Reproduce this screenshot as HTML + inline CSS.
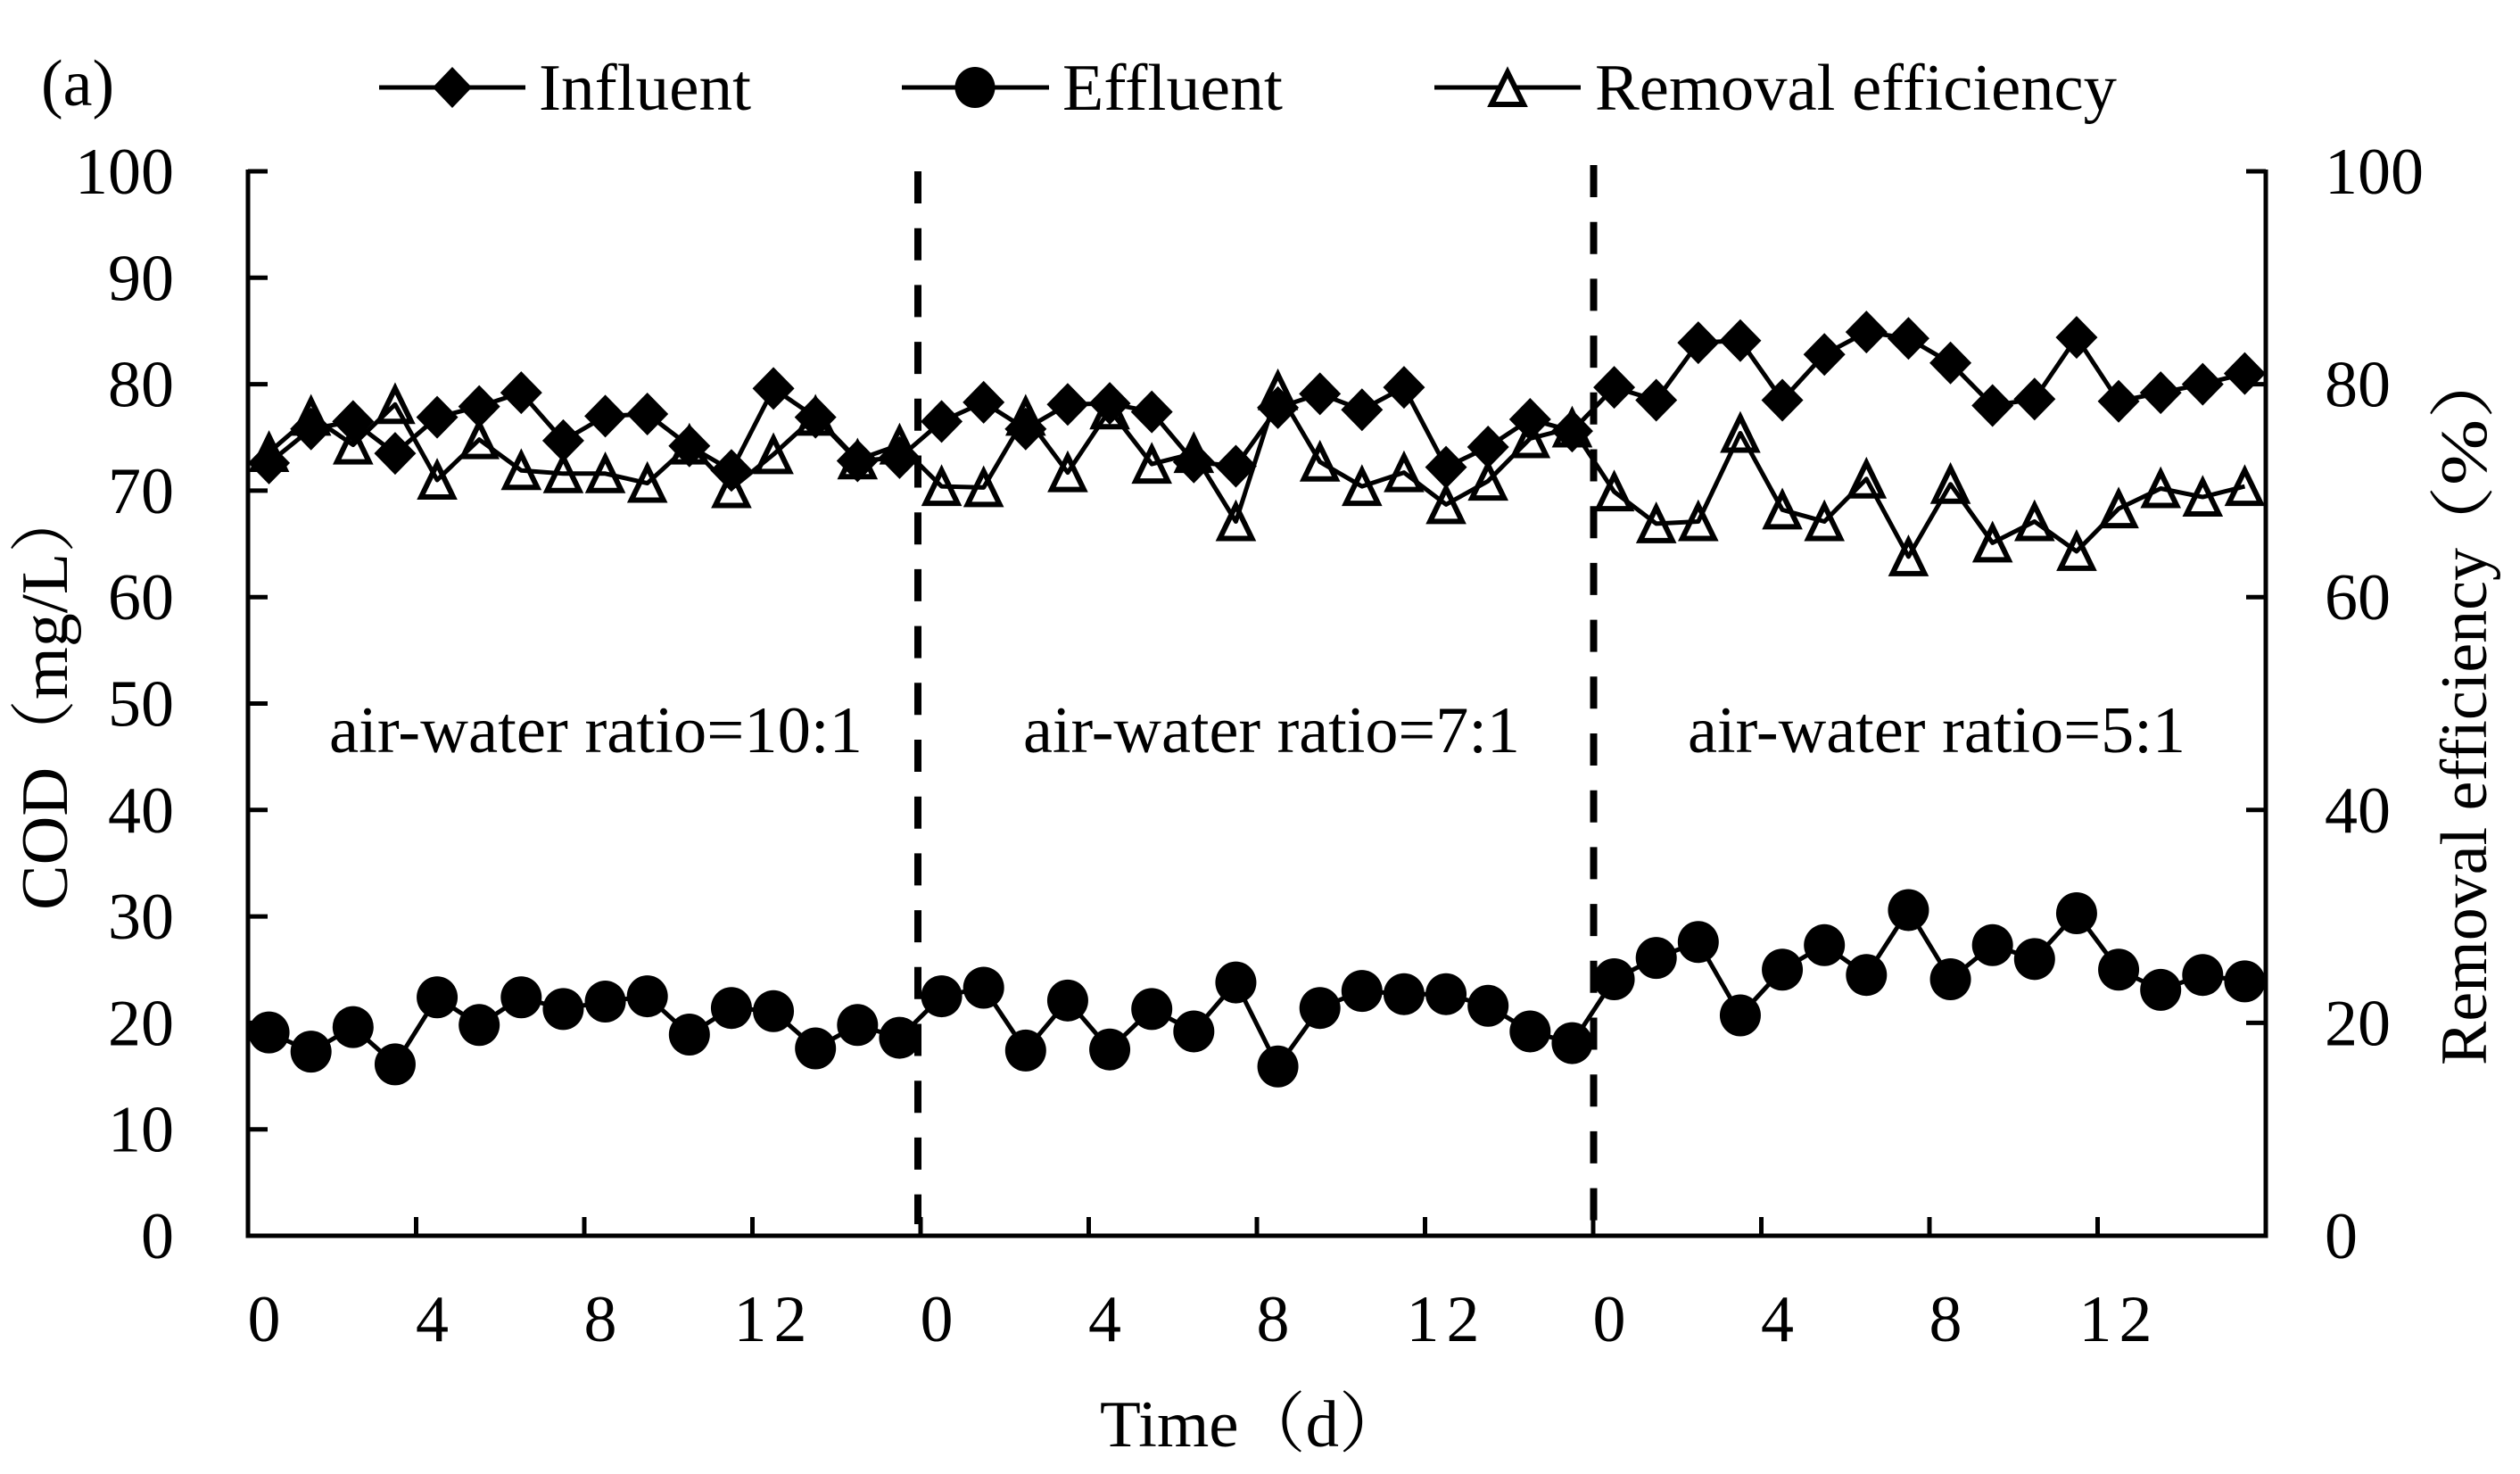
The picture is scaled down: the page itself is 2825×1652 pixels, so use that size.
<!DOCTYPE html>
<html lang="en">
<head>
<meta charset="utf-8">
<title>COD influent, effluent and removal efficiency</title>
<style>
  html, body { margin: 0; padding: 0; background: #fff; }
  svg { display: block; }
  text { font-family: "Liberation Serif", "Noto Serif CJK SC", serif; font-size: 74px; fill: #000; }
</style>
</head>
<body>
<svg id="chart" xmlns="http://www.w3.org/2000/svg" width="2825" height="1652" viewBox="0 0 2825 1652">
  <rect x="0" y="0" width="2825" height="1652" fill="#fff"/>
  <text x="46" y="118">(a)</text>

  <g>
    <g>
      <line x1="425" y1="98" x2="589" y2="98" stroke="#000" stroke-width="5"/>
      <polygon points="507,75 529,98 507,121 485,98" fill="#000"/>
      <text x="604" y="123" textLength="238" lengthAdjust="spacingAndGlyphs">Influent</text>
    </g>
    <g>
      <line x1="1011" y1="98" x2="1176" y2="98" stroke="#000" stroke-width="5"/>
      <ellipse cx="1093" cy="98" rx="22.5" ry="23" fill="#000"/>
      <text x="1191" y="123" textLength="247" lengthAdjust="spacingAndGlyphs">Effluent</text>
    </g>
    <g>
      <line x1="1608" y1="98" x2="1772" y2="98" stroke="#000" stroke-width="5"/>
      <polygon points="1690,81 1708,117 1672,117" fill="#fff" stroke="#000" stroke-width="6"/>
      <text x="1788" y="123" textLength="585" lengthAdjust="spacingAndGlyphs">Removal efficiency</text>
    </g>
  </g>

  <g id="plot"></g>

  <g>
    <line x1="1029" y1="192" x2="1029" y2="1372" stroke="#000" stroke-width="8" stroke-dasharray="36 27.7"/>
    <line x1="1786.5" y1="185" x2="1786.5" y2="1369" stroke="#000" stroke-width="8" stroke-dasharray="36 27.7"/>
  </g>

  <text x="369" y="843" textLength="598" lengthAdjust="spacingAndGlyphs">air-water ratio=10:1</text>
  <text x="1147" y="843" textLength="557" lengthAdjust="spacingAndGlyphs">air-water ratio=7:1</text>
  <text x="1892" y="843" textLength="558" lengthAdjust="spacingAndGlyphs">air-water ratio=5:1</text>

  <text x="1233" y="1621" textLength="343" lengthAdjust="spacingAndGlyphs">Time（d）</text>
  <text transform="translate(75 1020) rotate(-90)" textLength="476" lengthAdjust="spacingAndGlyphs">COD（mg/L）</text>
  <g>
    <text transform="translate(2787 1194) rotate(-90)" textLength="580" lengthAdjust="spacingAndGlyphs">Removal efficiency</text>
    <text transform="translate(2787 633) rotate(-90)" textLength="252" lengthAdjust="spacingAndGlyphs">（%）</text>
  </g>
</svg>

<script>
const categories = [0,1,2,3,4,5,6,7,8,9,10,11,12,13,14,15,0,1,2,3,4,5,6,7,8,9,10,11,12,13,14,15,0,1,2,3,4,5,6,7,8,9,10,11,12,13,14,15];
const influent = [72.6,75.8,76.5,73.5,76.9,77.9,79.2,74.7,77.0,77.2,74.2,71.9,79.6,76.9,72.8,73.1,76.5,78.3,75.8,78.1,78.2,77.4,72.7,72.3,77.8,79.1,77.6,79.7,72.2,74.1,76.7,75.6,79.7,78.5,83.9,84.1,78.5,82.8,84.9,84.3,82.0,78.0,78.6,84.4,78.4,79.2,80.0,81.0];
const effluent = [19.1,17.3,19.6,16.1,22.4,19.8,22.4,21.3,22.0,22.5,18.9,21.4,21.1,17.6,19.8,18.6,22.5,23.3,17.4,22.1,17.5,21.3,19.2,23.8,15.9,21.4,23.0,22.7,22.7,21.6,19.2,18.1,24.1,26.1,27.6,20.7,25.0,27.3,24.5,30.6,24.1,27.3,26.0,30.3,25.0,23.1,24.5,23.9];
const removalEfficiency = [73.6,77.0,74.3,78.1,71.0,74.8,71.9,71.6,71.6,70.7,74.3,70.2,73.4,77.0,72.9,74.3,70.4,70.3,77.0,71.7,77.6,72.5,73.5,67.1,79.4,72.7,70.4,71.7,68.7,70.9,74.9,75.9,69.9,66.9,67.1,75.4,68.2,67.1,71.1,63.8,70.6,65.1,67.1,64.3,68.3,70.2,69.4,70.4];
const xTickCategories = [0,4,8,12,16,20,24,28,32,36,40,44];
const xTickLabels = ["0","4","8","12","0","4","8","12","0","4","8","12"];
const yLeftTickLabels = [0,10,20,30,40,50,60,70,80,90,100];
const yRightTickLabels = [0,20,40,60,80,100];

const plotLeft = 278;
const plotRight = 2540;
const plotTop = 192;
const plotBottom = 1385;
const yMax = 100;
const SVG_NS = "http://www.w3.org/2000/svg";
const plot = document.getElementById("plot");

function bandWidth() { return (plotRight - plotLeft) / categories.length; }
function xEdge(i) { return plotLeft + i * bandWidth(); }
function xScale(i) { return xEdge(i + 0.5); }
function yScale(v) { return plotBottom - (v / yMax) * (plotBottom - plotTop); }

function make(tag, attrs, parent) {
  const el = document.createElementNS(SVG_NS, tag);
  Object.keys(attrs).forEach(function (k) { el.setAttribute(k, attrs[k]); });
  parent.appendChild(el);
  return el;
}

function drawAxes() {
  const axes = make("g", {}, plot);
  
  

  const leftAxis = make("line", { x1: plotLeft, y1: plotTop - 2, x2: plotLeft, y2: plotBottom + 2, stroke: "#000", "stroke-width": 5 }, axes);
  
  

  const rightAxis = make("line", { x1: plotRight, y1: plotTop - 2, x2: plotRight, y2: plotBottom + 2, stroke: "#000", "stroke-width": 5 }, axes);
  
  

  const bottomAxis = make("line", { x1: plotLeft - 2.5, y1: plotBottom, x2: plotRight + 2.5, y2: plotBottom, stroke: "#000", "stroke-width": 5 }, axes);
  
  

  yLeftTickLabels.forEach(function (v) {
    const y = yScale(v);
    if (v > 0) {
      const tick = make("line", { x1: plotLeft, y1: y, x2: plotLeft + 22, y2: y, stroke: "#000", "stroke-width": 5 }, axes);
      
      
    }
    const label = make("text", { x: 195, y: y + 25, "text-anchor": "end" }, axes);
    label.textContent = String(v);
    
    
  });

  yRightTickLabels.forEach(function (v) {
    const y = yScale(v);
    if (v > 0) {
      const tick = make("line", { x1: plotRight, y1: y, x2: plotRight - 22, y2: y, stroke: "#000", "stroke-width": 5 }, axes);
      
      
    }
    const label = make("text", { x: 2606, y: y + 25, "text-anchor": "start" }, axes);
    label.textContent = String(v);
    
    
  });

  xTickCategories.forEach(function (c, i) {
    if (c > 0) {
      const tick = make("line", { x1: xEdge(c), y1: plotBottom, x2: xEdge(c), y2: plotBottom - 21, stroke: "#000", "stroke-width": 5 }, axes);
      
      
    }
    const text = xTickLabels[i];
    const wide = text.length > 1;
    const label = make("text", { x: xScale(c) - 5.6 + (wide ? 6 : 0), y: 1503, "text-anchor": "middle", "letter-spacing": wide ? 8 : 0 }, axes);
    label.textContent = text;
    
    
  });
}

function linePath(values) {
  return values.map(function (v, i) { return (i ? "L" : "M") + xScale(i).toFixed(2) + " " + yScale(v).toFixed(2); }).join(" ");
}

function drawRemoval() {
  const g = make("g", {}, plot);
  
  
  const line = make("path", { d: linePath(removalEfficiency), fill: "none", stroke: "#000", "stroke-width": 5, "stroke-linejoin": "round" }, g);
  
  
  removalEfficiency.forEach(function (v, i) {
    const x = xScale(i);
    const y = yScale(v);
    const pts = [[x, y - 18], [x + 18, y + 19], [x - 18, y + 19]].map(function (p) { return p[0].toFixed(2) + "," + p[1].toFixed(2); }).join(" ");
    const marker = make("polygon", { points: pts, fill: "none", stroke: "#000", "stroke-width": 6 }, g);
    
    
  });
}

function drawEffluent() {
  const g = make("g", {}, plot);
  
  
  const line = make("path", { d: linePath(effluent), fill: "none", stroke: "#000", "stroke-width": 5, "stroke-linejoin": "round" }, g);
  
  
  effluent.forEach(function (v, i) {
    const marker = make("ellipse", { cx: xScale(i).toFixed(2), cy: yScale(v).toFixed(2), rx: 23, ry: 23.5, fill: "#000" }, g);
    
    
  });
}

function drawInfluent() {
  const g = make("g", {}, plot);
  
  
  const line = make("path", { d: linePath(influent), fill: "none", stroke: "#000", "stroke-width": 5, "stroke-linejoin": "round" }, g);
  
  
  influent.forEach(function (v, i) {
    const x = xScale(i);
    const y = yScale(v);
    const pts = [[x, y - 24], [x + 23.5, y], [x, y + 24], [x - 23.5, y]].map(function (p) { return p[0].toFixed(2) + "," + p[1].toFixed(2); }).join(" ");
    const marker = make("polygon", { points: pts, fill: "#000" }, g);
    
    
  });
}

drawRemoval();
drawEffluent();
drawInfluent();
drawAxes();
</script>
</body>
</html>
